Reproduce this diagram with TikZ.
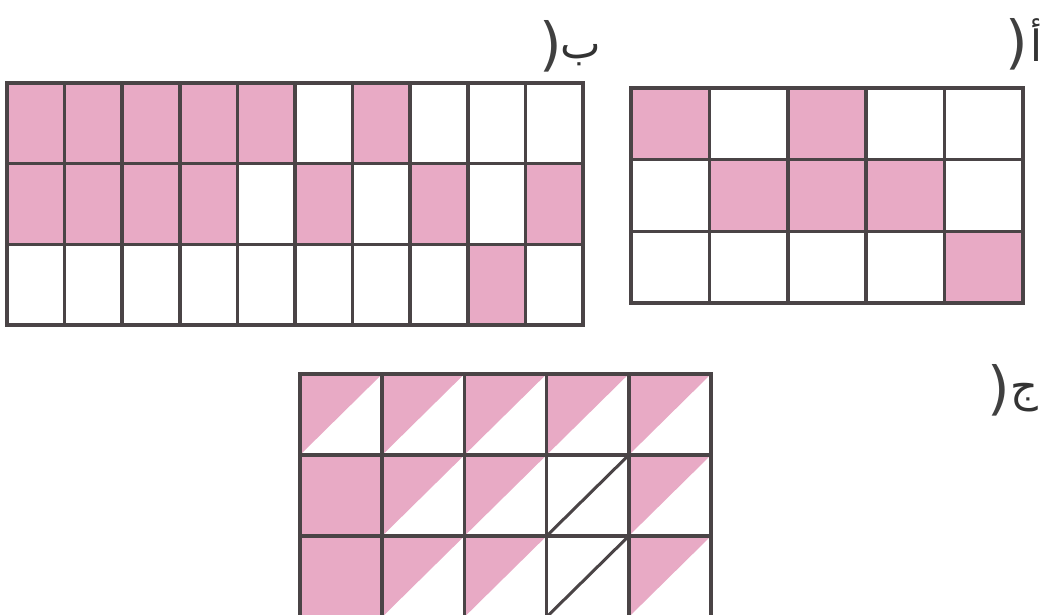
\documentclass[tikz,border=0pt]{standalone}
\usepackage{fontspec}
\newfontfamily\arabicfont[Script=Arabic]{DejaVu Sans}
\definecolor{pinkc}{RGB}{232,170,197}
\definecolor{linec}{RGB}{74,68,70}
\tikzset{
  gl/.style={draw=linec, line width=3.6pt},
  lbl/.style={inner sep=0pt, font=\arabicfont\fontsize{43}{50}\selectfont, text=black!80},
  par/.style={inner ysep=0pt, inner xsep=-5pt, font=\arabicfont\fontsize{58}{66}\selectfont, text=black!75}
}
\begin{document}
\begin{tikzpicture}[x=1pt,y=-1pt]
\useasboundingbox (0,0) rectangle (1043,615);
\fill[white] (0,0) rectangle (1043,615);

% ---- grid B (10 x 3)
\foreach \c/\r in {1/1,2/1,3/1,4/1,5/1,7/1,1/2,2/2,3/2,4/2,6/2,8/2,10/2,9/3}
  \fill[pinkc] ({7+(\c-1)*57.6},{83+(\r-1)*80.67}) rectangle ++(57.6,80.67);
\foreach \i in {1,...,9} \draw[gl] ({7+\i*57.6},83) -- ({7+\i*57.6},325);
\foreach \j in {1,2} \draw[gl] (7,{83+\j*80.67}) -- (583,{83+\j*80.67});
\draw[gl] (7,83) rectangle (583,325);

% ---- grid A (5 x 3)
\foreach \c/\r in {1/1,3/1,2/2,3/2,4/2,5/3}
  \fill[pinkc] ({631+(\c-1)*78.4},{88+(\r-1)*71.67}) rectangle ++(78.4,71.67);
\foreach \i in {1,...,4} \draw[gl] ({631+\i*78.4},88) -- ({631+\i*78.4},303);
\foreach \j in {1,2} \draw[gl] (631,{88+\j*71.67}) -- (1023,{88+\j*71.67});
\draw[gl] (631,88) rectangle (1023,303);

% ---- grid C (5 x 3)
\foreach \c/\r in {1/2,1/3}
  \fill[pinkc] ({300+(\c-1)*82.2},{374+(\r-1)*81}) rectangle ++(82.2,81);
\foreach \c/\r in {1/1,2/1,3/1,4/1,5/1,2/2,3/2,5/2,2/3,3/3,5/3}
  \fill[pinkc] ({300+(\c-1)*82.2},{374+(\r-1)*81}) -- ++(82.2,0) -- ++(-82.2,81) -- cycle;
\foreach \r in {2,3}
  \draw[gl, line width=3pt] ({300+3*82.2},{374+\r*81}) -- ++(82.2,-81);
\foreach \i in {1,...,4} \draw[gl] ({300+\i*82.2},374) -- ({300+\i*82.2},619);
\foreach \j in {1,2} \draw[gl] (300,{374+\j*81}) -- (711,{374+\j*81});
\draw[gl] (300,374) rectangle (711,617);

% ---- labels
\node[par] (labBp) at (551,46) {(};
\node[lbl] (labB) at (581,55) {ب};
\node[par] (labAp) at (1017,44) {(};
\node[lbl] (labA) at (1036,40) {أ};
\node[par] (labCp) at (999,390) {(};
\node[lbl] (labC) at (1024,398) {ج};
\end{tikzpicture}
\end{document}
